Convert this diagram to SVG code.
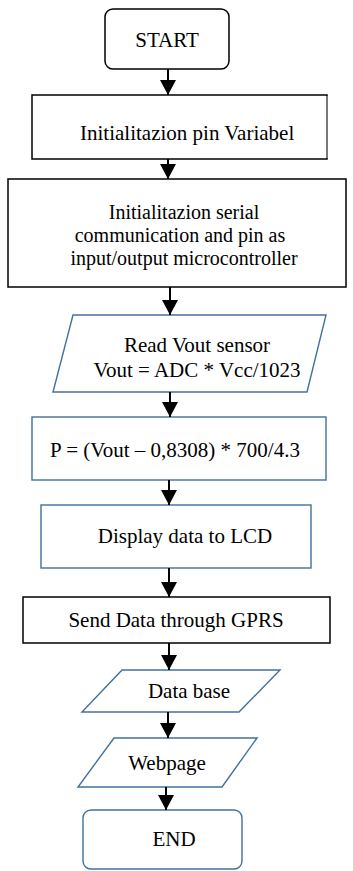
<svg xmlns="http://www.w3.org/2000/svg" width="353" height="871" viewBox="0 0 353 871">
  <style>
    .blk { fill: #ffffff; stroke: #000000; stroke-width: 1.5; }
    .blu { fill: #ffffff; stroke: #41719c; stroke-width: 1.4; }
    .lbl { font-family: "Liberation Serif", "Times New Roman", serif; font-size: 21px; fill: #000000; }
    .sm { font-size: 20px; }
    .mid { text-anchor: middle; }
    .flow { stroke: #000000; stroke-width: 2; fill: none; marker-end: url(#head); }
  </style>
  <defs>
    <!-- downward arrowhead; marker x-axis follows the line direction -->
    <marker id="head" markerUnits="userSpaceOnUse" markerWidth="16" markerHeight="16" viewBox="0 0 15 16" refX="15" refY="8" orient="auto">
      <polygon points="0,0 15,8 0,16" fill="#000000"/>
    </marker>
  </defs>
  <rect width="353" height="871" fill="#ffffff"/>

  <g id="start">
    <rect class="blk" x="105" y="9" width="124" height="60" rx="8"/>
    <text class="lbl mid" x="167" y="47">START</text>
  </g>

  <g id="init-pin">
    <rect class="blk" x="32" y="95" width="295" height="64"/>
    <!-- lighter right edge -->
    <line x1="327" y1="96" x2="327" y2="158" stroke="#8c8c8c" stroke-width="1.5"/>
    <text class="lbl" x="80" y="140">Initialitazion pin Variabel</text>
  </g>

  <g id="init-serial">
    <rect class="blk" x="8" y="179" width="338" height="108"/>
    <text class="lbl sm mid" x="184" y="219">Initialitazion serial</text>
    <text class="lbl sm mid" x="180" y="242">communication and pin as</text>
    <text class="lbl sm mid" x="184" y="265">input/output microcontroller</text>
  </g>

  <g id="read-vout">
    <polygon class="blu" points="73,315 326,315 307,392 53,392"/>
    <text class="lbl mid" x="197" y="352">Read Vout sensor</text>
    <text class="lbl mid" x="197" y="377">Vout = ADC * Vcc/1023</text>
  </g>

  <g id="pressure">
    <rect class="blu" x="32" y="417" width="294" height="63"/>
    <text class="lbl mid" x="175" y="457">P = (Vout – 0,8308) * 700/4.3</text>
  </g>

  <g id="display">
    <rect class="blu" x="41" y="505" width="270" height="63"/>
    <text class="lbl mid" x="185" y="543">Display data to LCD</text>
  </g>

  <g id="send">
    <rect class="blk" x="23" y="597" width="307" height="46"/>
    <text class="lbl mid" x="176" y="627">Send Data through GPRS</text>
  </g>

  <g id="database">
    <polygon class="blu" points="122,670 280,670 239,712 82,712"/>
    <text class="lbl mid" x="189" y="698">Data base</text>
  </g>

  <g id="webpage">
    <polygon class="blu" points="114,738 257,738 222,787 78,787"/>
    <text class="lbl mid" x="167" y="770">Webpage</text>
  </g>

  <g id="end">
    <rect class="blu" x="83" y="810" width="159" height="59" rx="8"/>
    <text class="lbl mid" x="174" y="846">END</text>
  </g>

  <g id="connectors">
    <line class="flow" x1="168" y1="69" x2="168" y2="95"/>
    <line class="flow" x1="168" y1="159" x2="168" y2="179"/>
    <line class="flow" x1="170" y1="287" x2="170" y2="315"/>
    <line class="flow" x1="170" y1="392" x2="170" y2="417"/>
    <line class="flow" x1="169" y1="480" x2="169" y2="505"/>
    <line class="flow" x1="169" y1="568" x2="169" y2="597"/>
    <line class="flow" x1="169" y1="643" x2="169" y2="670"/>
    <line class="flow" x1="168" y1="712" x2="168" y2="738"/>
    <line class="flow" x1="166" y1="787" x2="166" y2="810"/>
  </g>
</svg>
